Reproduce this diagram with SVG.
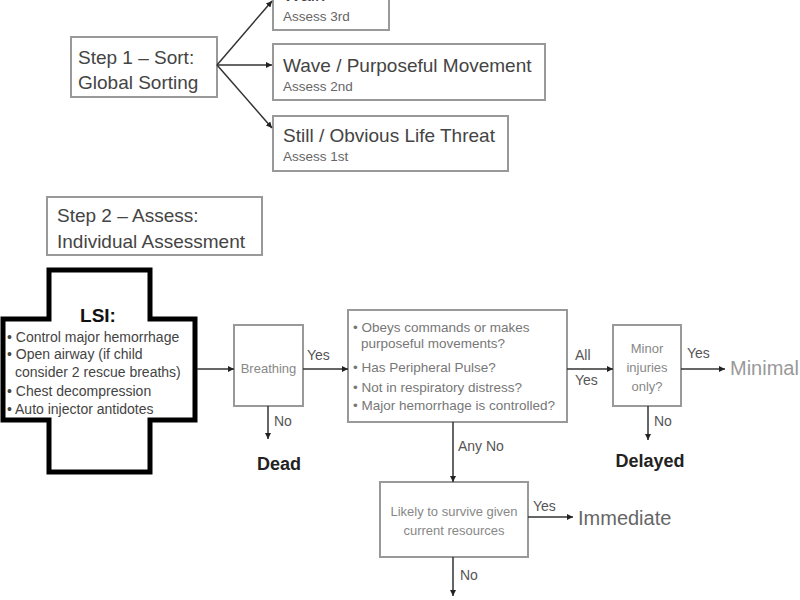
<svg xmlns="http://www.w3.org/2000/svg" width="800" height="600" viewBox="0 0 800 600">
<defs>
<marker id="ah" viewBox="0 0 10 10" refX="10" refY="5" markerWidth="6" markerHeight="6" markerUnits="userSpaceOnUse" orient="auto">
<path d="M0,0 L10,5 L0,10 Z" fill="#222"/>
</marker>
</defs>
<style>
text{font-family:"Liberation Sans",Arial,sans-serif;}
.box{fill:#fff;stroke:#999;stroke-width:2;}
.big{font-size:19px;fill:#444;}
.sm{font-size:13.5px;fill:#666;}
.in{font-size:13px;fill:#888;}
.lbl{font-size:14px;fill:#555;}
.out{font-size:18px;font-weight:bold;fill:#222;}
.ln{fill:none;stroke:#333;stroke-width:1.5;marker-end:url(#ah);}
</style>
<rect width="800" height="600" fill="#fff"/>

<g id="walk">
<rect class="box" x="273" y="-30" width="116" height="60"/>
<text class="big" x="283" y="1">Walk</text>
<text class="sm" x="283" y="21">Assess 3rd</text>
</g>
<g id="step1">
<rect class="box" x="71" y="37" width="146" height="60"/>
<text class="big" x="78" y="64">Step 1 – Sort:</text>
<text class="big" x="78" y="89">Global Sorting</text>
</g>
<g id="wave">
<rect class="box" x="273" y="44" width="272" height="56"/>
<text class="big" x="283" y="72">Wave / Purposeful Movement</text>
<text class="sm" x="283" y="91">Assess 2nd</text>
</g>
<g id="still">
<rect class="box" x="273" y="116" width="235" height="55"/>
<text class="big" x="283" y="142">Still / Obvious Life Threat</text>
<text class="sm" x="283" y="161">Assess 1st</text>
</g>
<g id="step2">
<rect class="box" x="47" y="197" width="215" height="58"/>
<text class="big" x="57" y="222">Step 2 – Assess:</text>
<text class="big" x="57" y="248">Individual Assessment</text>
</g>
<g id="lsi">
<path d="M49,270 H150 V319 H195 V420 H150 V472 H49 V420 H3 V319 H49 Z" fill="#fff" stroke="#000" stroke-width="5"/>
<text x="98" y="322" text-anchor="middle" font-size="19" font-weight="bold" fill="#111">LSI:</text>
<g font-size="14" fill="#444">
<text x="7" y="342">• Control major hemorrhage</text>
<text x="7" y="359">• Open airway (if child</text>
<text x="15" y="377">consider 2 rescue breaths)</text>
<text x="7" y="396">• Chest decompression</text>
<text x="7" y="414">• Auto injector antidotes</text>
</g>
</g>
<g id="breathing">
<rect class="box" x="234" y="325" width="69" height="81"/>
<text class="in" x="268.5" y="373" text-anchor="middle">Breathing</text>
</g>
<g id="dead"><text class="out" x="279" y="470" text-anchor="middle" fill="#333">Dead</text></g>
<g id="obeys">
<rect class="box" x="348" y="310" width="219" height="112"/>
<g font-size="13.5" fill="#777">
<text x="353" y="332">• Obeys commands or makes</text>
<text x="361" y="348">purposeful movements?</text>
<text x="353" y="372">• Has Peripheral Pulse?</text>
<text x="353" y="392">• Not in respiratory distress?</text>
<text x="353" y="410">• Major hemorrhage is controlled?</text>
</g>
</g>
<g id="minor">
<rect class="box" x="613" y="325" width="68" height="81"/>
<text class="in" x="647" y="353" text-anchor="middle">Minor</text>
<text class="in" x="647" y="372" text-anchor="middle">injuries</text>
<text class="in" x="647" y="391" text-anchor="middle">only?</text>
</g>
<g id="minimal"><text x="730" y="375" font-size="20" fill="#999">Minimal</text></g>
<g id="delayed"><text class="out" x="650" y="467" text-anchor="middle">Delayed</text></g>
<g id="likely">
<rect class="box" x="380" y="482" width="148" height="75"/>
<text class="in" x="454" y="516" text-anchor="middle">Likely to survive given</text>
<text class="in" x="454" y="535" text-anchor="middle">current resources</text>
</g>
<g id="immediate"><text x="578" y="525" font-size="20" fill="#666">Immediate</text></g>

<g id="connectors">
<path class="ln" d="M217,65 L272,1"/>
<path class="ln" d="M217,65 L272,65"/>
<path class="ln" d="M217,65 L272,128"/>
<path class="ln" d="M197,369 L234,369"/>
<path class="ln" d="M303,369 L348,369"/>
<path class="ln" d="M268,406 L268,439"/>
<path class="ln" d="M567,369 L613,369"/>
<path class="ln" d="M681,369 L725,369"/>
<path class="ln" d="M648,406 L648,440"/>
<path class="ln" d="M453,422 L453,482"/>
<path class="ln" d="M528,517 L573,517"/>
<path class="ln" d="M453,557 L453,596"/>
<text class="lbl" x="307" y="360">Yes</text>
<text class="lbl" x="274" y="426">No</text>
<text class="lbl" x="575" y="360">All</text>
<text class="lbl" x="575" y="385">Yes</text>
<text class="lbl" x="687" y="358">Yes</text>
<text class="lbl" x="654" y="426">No</text>
<text class="lbl" x="458" y="451">Any No</text>
<text class="lbl" x="533" y="511">Yes</text>
<text class="lbl" x="460" y="580">No</text>
</g>
</svg>
